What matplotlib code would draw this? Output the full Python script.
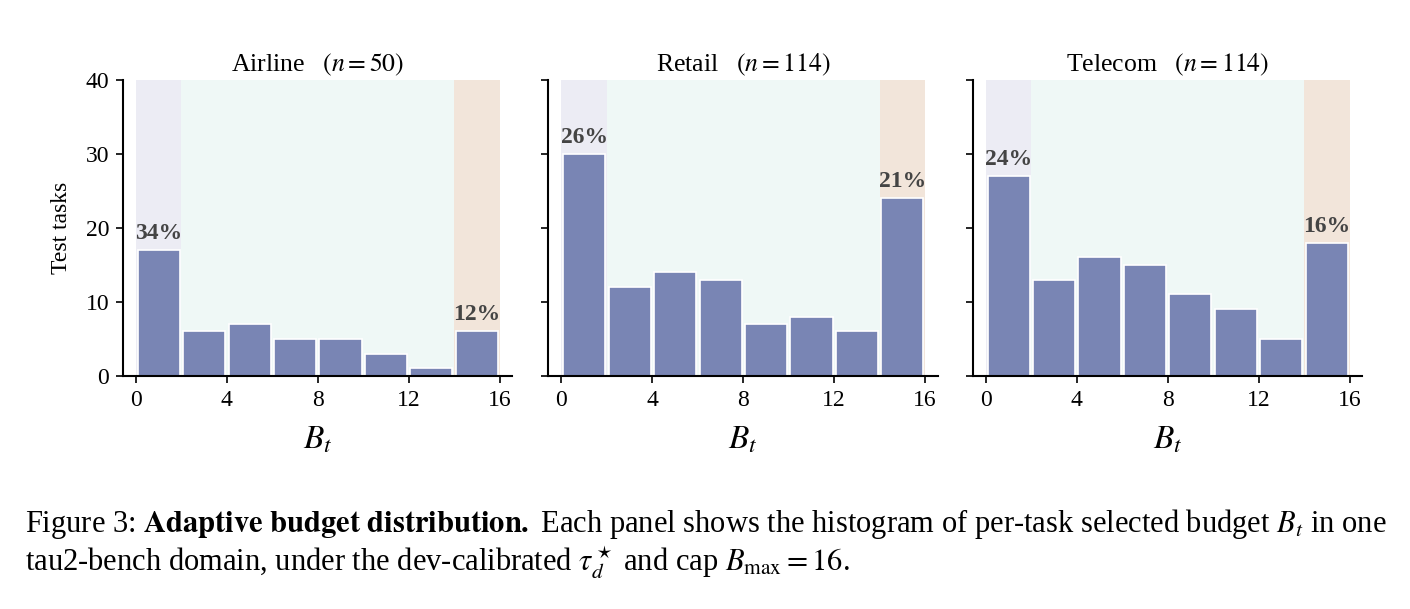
import matplotlib.pyplot as plt
import numpy as np

plt.rcParams['font.family'] = ['Liberation Serif', 'DejaVu Serif']
plt.rcParams['mathtext.fontset'] = 'stix'

# histogram data (bins of width 2 between 0 and 16)
bin_edges = [0, 2, 4, 6, 8, 10, 12, 14, 16]
domains = ['Airline', 'Retail', 'Telecom']
n_tasks = [50, 114, 114]
airline_counts = [17, 6, 7, 5, 5, 3, 1, 6]
retail_counts = [30, 12, 14, 13, 7, 8, 6, 24]
telecom_counts = [27, 13, 16, 15, 11, 9, 5, 18]
all_counts = [airline_counts, retail_counts, telecom_counts]

bar_color = '#7985b4'
low_color = '#ececf4'
mid_color = '#eff8f6'
cap_color = '#f2e5da'

fig = plt.figure(figsize=(14.1, 6.09), dpi=100)
lefts = [0.0872, 0.389, 0.690]
width = 0.276
bottom, height = 0.383, 0.486

for i, (name, n, counts) in enumerate(zip(domains, n_tasks, all_counts)):
    ax = fig.add_axes([lefts[i], bottom, width, height])
    edges = np.array(bin_edges)
    centers = (edges[:-1] + edges[1:]) / 2
    ax.axvspan(0, 2, color=low_color, lw=0, zorder=0)
    ax.axvspan(2, 14, color=mid_color, lw=0, zorder=0)
    ax.axvspan(14, 16, color=cap_color, lw=0, zorder=0)
    ax.bar(centers, counts, width=1.85, color=bar_color, edgecolor='white',
           linewidth=1.2, zorder=2)
    for j in (0, len(counts) - 1):
        pct = round(100 * counts[j] / n)
        ax.text(centers[j], counts[j] + 0.8, f'{pct}%', ha='center', va='bottom',
                fontsize=17, fontweight='bold', color='#444444', zorder=3)
    ax.set_xlim(-0.57, 16.55)
    ax.set_ylim(0, 40)
    ax.set_xticks([0, 4, 8, 12, 16])
    ax.set_yticks([0, 10, 20, 30, 40])
    ax.tick_params(labelsize=17, width=1.2, length=5, pad=5)
    if i > 0:
        ax.set_yticklabels([])
    else:
        ax.set_ylabel('Test tasks', fontsize=17, labelpad=10)
    for s in ('top', 'right'):
        ax.spines[s].set_visible(False)
    for s in ('left', 'bottom'):
        ax.spines[s].set_linewidth(1.5)
    ax.set_xlabel(r'$B_t$', fontsize=24, labelpad=10)
    ax.set_title(name + r'$\quad(n=' + str(n) + ')$', fontsize=18.5, pad=6)

fig.text(0.0177, 0.139,
         r'Figure 3: $\mathbf{Adaptive\ budget\ distribution.}$ Each panel shows the histogram '
         r'of per-task selected budget $B_t$ in one', fontsize=22, va='center')
fig.text(0.0177, 0.077,
         r'tau2-bench domain, under the dev-calibrated $\tau_d^\star$ and cap $B_{\max}=16$.',
         fontsize=22, va='center')

fig.savefig('out.png', dpi=100)
